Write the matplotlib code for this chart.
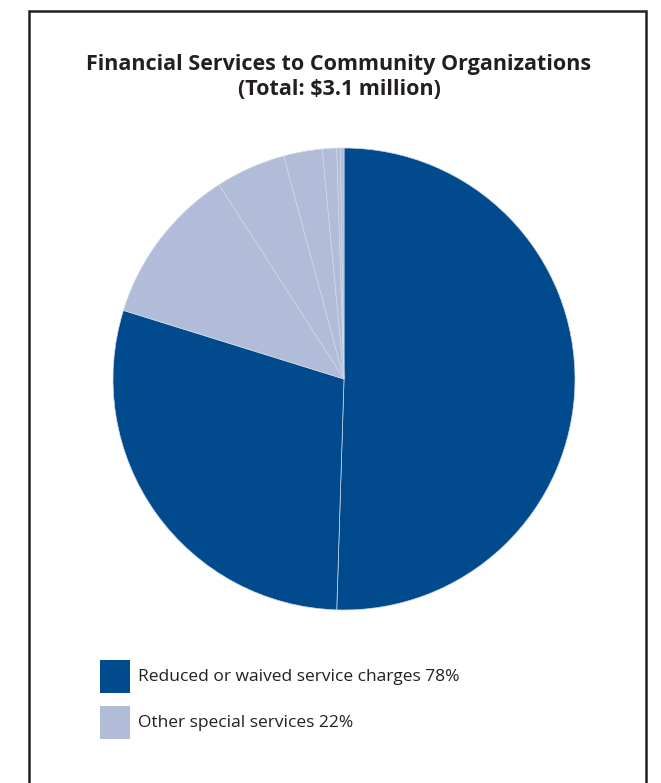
import matplotlib
matplotlib.use("Agg")
import matplotlib.pyplot as plt
from matplotlib.patches import Rectangle

# Data
slice_values = [50.5, 29.3, 11.1, 4.9, 2.7, 1.0, 0.25, 0.25]
slice_groups = [0, 0, 1, 1, 1, 1, 1, 1]
legend_labels = ["Reduced or waived service charges 78%", "Other special services 22%"]
group_colors = ["#004A8D", "#B1BCD9"]
title_text = "Financial Services to Community Organizations\n(Total: $3.1 million)"

W, H = 661, 783
fig = plt.figure(figsize=(W / 100, H / 100), dpi=100)

title_font = "Open Sans"
body_font = "Open Sans"

# frame
frame = Rectangle((29 / W, -0.1), (646 - 29) / W, (H - 11) / H + 0.1, transform=fig.transFigure,
                  fill=False, edgecolor="#231F20", linewidth=1.8)
fig.patches.append(frame)

# title
fig.text(339 / W, 1 - 77 / H, title_text, ha="center", va="center", fontsize=15.5,
         fontweight="bold", family=title_font, color="#231F20", linespacing=1.3)

# pie
cx, cy, r = 344, 379, 231
ax = fig.add_axes([(cx - r) / W, (H - cy - r) / H, 2 * r / W, 2 * r / H])
colors = [group_colors[g] for g in slice_groups]
ax.pie(slice_values, colors=colors, startangle=90, counterclock=False, radius=1,
       wedgeprops=dict(edgecolor="#D0D8EA", linewidth=0.5))
ax.set_xlim(-1, 1)
ax.set_ylim(-1, 1)
ax.set_aspect("equal")
ax.axis("off")

# legend
rows_y = [677, 723]
for i, (lab, col) in enumerate(zip(legend_labels, group_colors)):
    y = rows_y[i]
    fig.patches.append(Rectangle((100 / W, 1 - (y + 16) / H), 30 / W, 33 / H,
                                 transform=fig.transFigure, facecolor=col, edgecolor="none"))
    fig.text(138 / W, 1 - y / H, lab, ha="left", va="center", fontsize=12.5,
             family=body_font, color="#231F20")

fig.savefig("out.png", dpi=100)
